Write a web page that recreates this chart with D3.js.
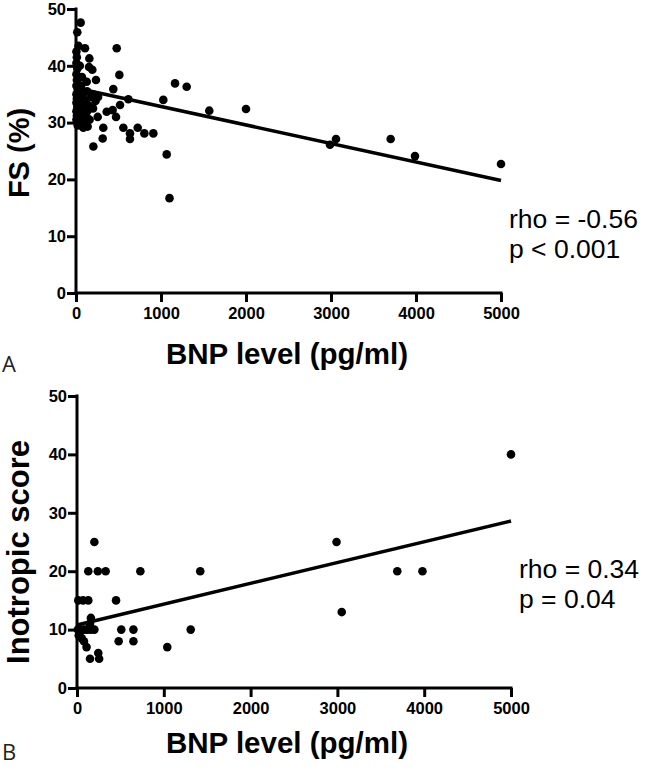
<!DOCTYPE html>
<html>
<head>
<meta charset="utf-8">
<script src="https://cdn.jsdelivr.net/npm/d3@7/dist/d3.min.js"></script>
<style>
  html, body { margin: 0; padding: 0; background: #fff; }
  svg { display: block; }
  .tick text { font-family: "Liberation Sans", Arial, sans-serif; font-weight: bold; font-size: 16.5px; fill: #000; }
</style>
</head>
<body>
<svg id="chart" width="646" height="770"></svg>
<script>
// ---------- data ----------
const xTicks = [0, 1000, 2000, 3000, 4000, 5000];
const yTicks = [0, 10, 20, 30, 40, 50];

// Panel A: BNP (pg/ml) vs FS (%)
const bnpA = [55,15,106,479,157,153,192,510,235,126,1165,1302,439,616,1027,1568,2000,518,361,431,471,255,126,86,137,321,557,726,635,635,804,910,314,204,1067,1100,3059,2988,3702,3988,5000,
  5,10,5,15,5,10,5,20,5,10,5,15,5,10,5,20,45,40,50,60,45,70,40,80,100,120,150,110,180,200,90,160,230,260,70,30,130,60,90,140,200,20];
const fsA  = [47.6,45.9,43.1,43.1,41.3,39.8,39.3,38.4,37.5,37.2,36.9,36.3,35.9,34.1,34.0,32.1,32.4,33.1,31.9,32.2,31.0,31.0,31.0,29.1,29.3,29.1,29.1,29.1,28.1,27.1,28.1,28.1,27.2,25.8,24.4,16.7,27.1,26.1,27.1,24.1,22.7,
  42.5,41.5,40.5,39.5,38.5,37.5,36.5,35.8,35,34.2,33.5,32.8,32,31.2,30.5,30,40,36,34.5,33.5,32.5,31.5,30.5,35,34,33.5,33,32,34.5,35,30.2,30.5,33.8,34.5,38,43.5,35.5,36.5,33,32.2,32.5,29.5];
const fitA = [[0, 36.1], [5000, 19.8]];

// Panel B: BNP (pg/ml) vs Inotropic score
const bnpB = [200,130,240,330,730,1420,15,70,130,450,160,10,30,60,90,120,160,200,510,650,1310,480,650,1040,110,55,35,150,245,255,5000,2990,3690,3980,3050,20,80,150];
const inoB = [25,20,20,20,20,20,15,15,15,15,12,10,10,10,10,10,10,10,10,10,10,8,8,7,7,8.5,9.6,5,6,5,40,25,20,20,13,9,8,11];
const fitB = [[0, 10.8], [5000, 28.6]];

const panels = [
  { id: "A", xs: bnpA, ys: fsA, fit: fitA, yTitle: "FS (%)", stats: ["rho = -0.56", "p < 0.001"],
    x0: 76, x1: 501, yTop: 9, yBot: 293, statX: 509, statY: 228, titleY: 364, letterY: 372, yTitleY: 153 },
  { id: "B", xs: bnpB, ys: inoB, fit: fitB, yTitle: "Inotropic score", stats: ["rho = 0.34", "p = 0.04"],
    x0: 77, x1: 511, yTop: 396, yBot: 688, statX: 519, statY: 578, titleY: 753, letterY: 760, yTitleY: 552 }
];

const svg = d3.select("#chart");

panels.forEach(p => {
  const x = d3.scaleLinear().domain([0, 5000]).range([p.x0, p.x1]);
  const y = d3.scaleLinear().domain([0, 50]).range([p.yBot, p.yTop]);
  const g = svg.append("g");

  // axes
  const ax = g.append("g").attr("transform", `translate(0,${p.yBot})`)
    .call(d3.axisBottom(x).tickValues(xTicks).tickFormat(d3.format("d")).tickSize(9).tickSizeOuter(0).tickPadding(5));
  const ay = g.append("g").attr("transform", `translate(${p.x0},0)`)
    .call(d3.axisLeft(y).tickValues(yTicks).tickSize(9).tickSizeOuter(0).tickPadding(1));
  [ax, ay].forEach(a => {
    a.select(".domain").attr("stroke", "#000").attr("stroke-width", 3);
    a.selectAll(".tick line").attr("stroke", "#000").attr("stroke-width", 3);
  });
  ax.selectAll(".domain").attr("d", `M${p.x0 - 1.5},0H${p.x1 + 1.5}`);
  ay.selectAll(".domain").attr("d", `M0,${p.yBot + 1.5}V${p.yTop - 1.5}`);

  // points
  const pts = p.xs.map((v, i) => [v, p.ys[i]]);
  g.append("g").selectAll("circle").data(pts).join("circle")
    .attr("cx", d => x(d[0])).attr("cy", d => y(d[1])).attr("r", 4.3).attr("fill", "#000");

  // fit line
  g.append("path").datum(p.fit)
    .attr("d", d3.line().x(d => x(d[0])).y(d => y(d[1])))
    .attr("stroke", "#000").attr("stroke-width", 3.5).attr("fill", "none");

  // titles
  g.append("text").attr("x", 287).attr("y", p.titleY)
    .attr("text-anchor", "middle")
    .style("font-family", '"Liberation Sans", Arial, sans-serif').style("font-weight", "bold").style("font-size", "29.5px")
    .text("BNP level (pg/ml)");
  g.append("text").attr("transform", `translate(29,${p.yTitleY}) rotate(-90)`)
    .attr("text-anchor", "middle")
    .style("font-family", '"Liberation Sans", Arial, sans-serif').style("font-weight", "bold").style("font-size", p.id === "A" ? "29px" : "31px")
    .text(p.yTitle);

  // stats
  p.stats.forEach((s, i) => {
    g.append("text").attr("x", p.statX).attr("y", p.statY + i * 30)
      .style("font-family", '"Liberation Sans", Arial, sans-serif').style("font-size", "26.5px")
      .text(s);
  });

  // panel letter
  g.append("text").attr("x", 2).attr("y", p.letterY)
    .style("font-family", '"Open Sans", sans-serif').style("font-size", "22px").style("fill", "#222")
    .text(p.id);
});
</script>
</body>
</html>
